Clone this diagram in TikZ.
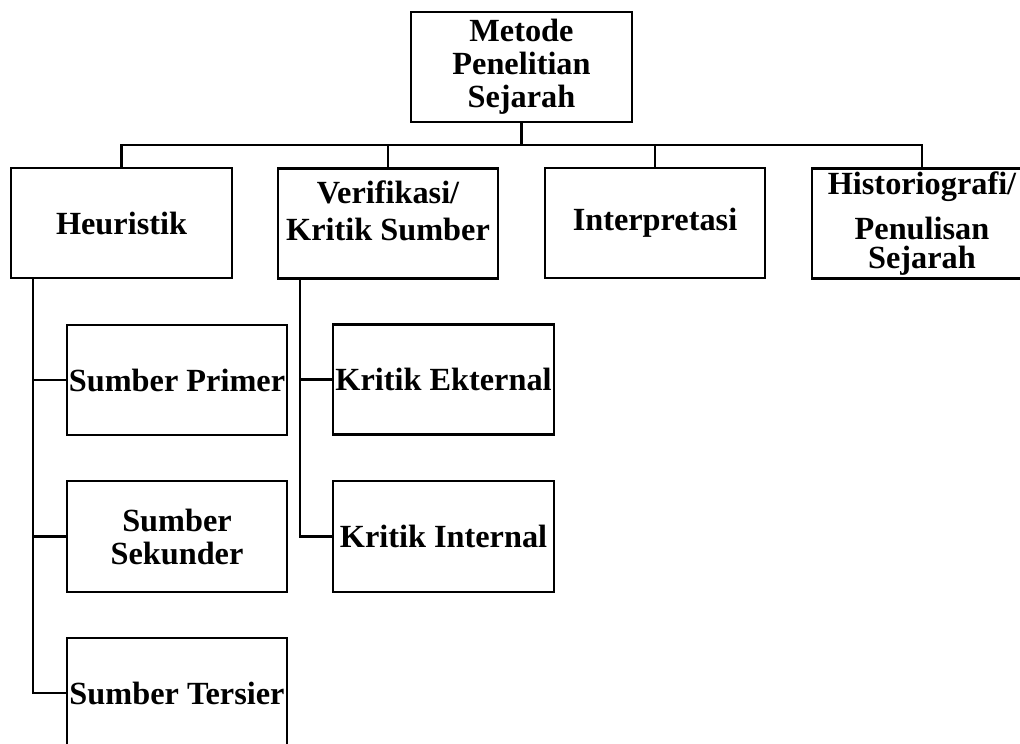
\documentclass[tikz,border=0pt]{standalone}
\usepackage{fontspec}
\setmainfont{Liberation Serif}
\begin{document}
\begin{tikzpicture}[x=1pt,y=-1pt,
  box/.style={draw=black,line width=2.8pt,rectangle,minimum width=220pt,minimum height=110pt,
    inner sep=0pt,align=center,font=\bfseries\fontsize{32.3}{33}\selectfont},
  conn/.style={draw=black,line width=2.8pt}]
\useasboundingbox (0,0) rectangle (1020,744);
\clip (0,0) rectangle (1020,744);
% level 0
\node[box,minimum width=221pt] (top) at (521.5,67) {Metode\\Penelitian\\Sejarah};
% level 1
\node[box,minimum width=221pt] (heur) at (121.5,223) {Heuristik};
\node[box,text depth=26pt] (verif) at (388,223.5) {Verifikasi/\\[4pt]Kritik Sumber};
\node[box] (interp) at (655,223) {Interpretasi};
\node[box] (hist) at (922,223.5) {Historiografi/\\[12pt]Penulisan\\[-4pt]Sejarah};
% level 2
\node[box] (prim) at (177,380) {Sumber Primer};
\node[box,minimum height=111pt] (sek) at (177,536.5) {Sumber\\Sekunder};
\node[box] (ters) at (177,693) {Sumber Tersier};
\node[box,minimum width=221pt] (ekst) at (443.5,379.5) {Kritik Ekternal};
\node[box,minimum width=221pt,minimum height=111pt] (intl) at (443.5,536.5) {Kritik Internal};
% connectors
\coordinate (bus) at (521.5,145);
\coordinate (hs) at (33,278);
\coordinate (vs) at (300,278);
\draw[conn] (top.south) -- (bus);
\draw[conn] (heur.north) |- (bus) -| (hist.north);
\draw[conn] (verif.north) -- (verif.north |- bus);
\draw[conn] (interp.north) -- (interp.north |- bus);
\draw[conn] (hs) |- (prim.west);
\draw[conn] (hs) |- (sek.west);
\draw[conn] (hs) |- (ters.west);
\draw[conn] (vs) |- (ekst.west);
\draw[conn] (vs) |- (intl.west);
\end{tikzpicture}
\end{document}
